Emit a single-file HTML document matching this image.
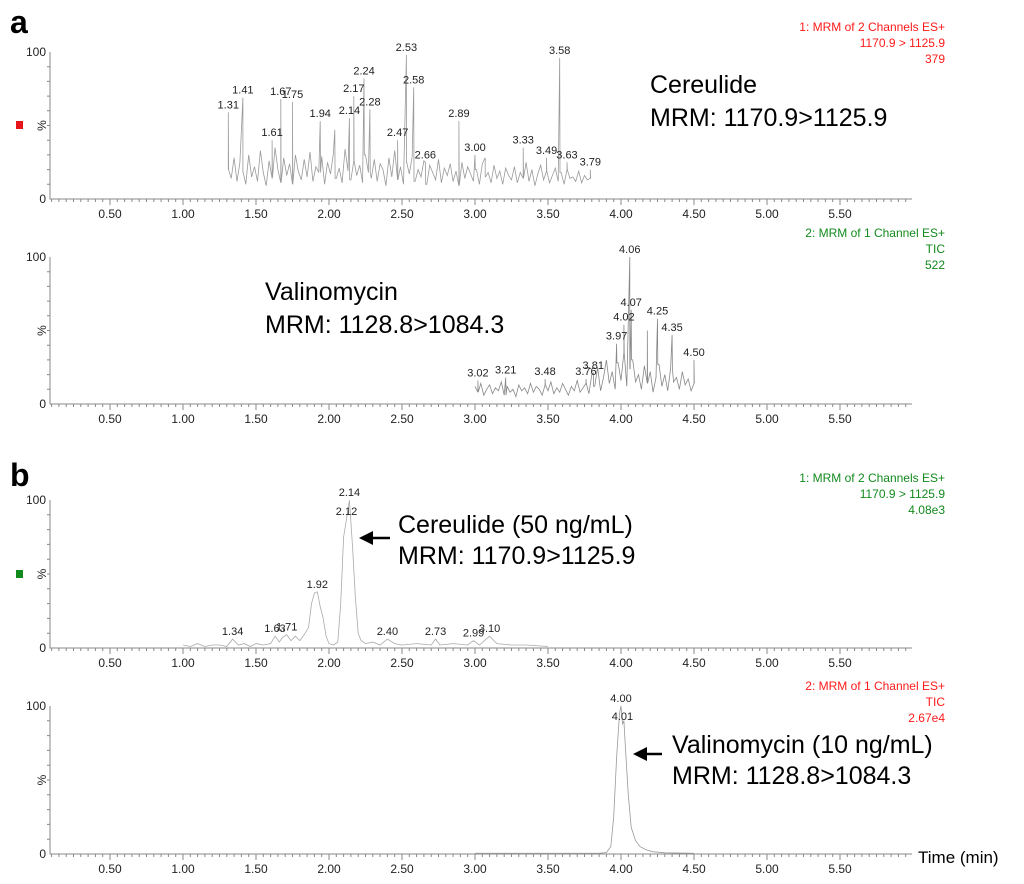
<!DOCTYPE html>
<html><head><meta charset="utf-8"><style>
html,body{margin:0;padding:0;background:#fff;}
svg{display:block;font-family:"Liberation Sans",Arial,sans-serif;}
.tk{font-size:12px;fill:#222;}
.pl{font-size:11px;fill:#222;}
.big{font-size:25px;fill:#000;}
</style></head><body>
<svg id="chart" width="1024" height="884" viewBox="0 0 1024 884" xmlns="http://www.w3.org/2000/svg">
<text x="10" y="33" font-size="32" font-weight="bold">a</text>
<text x="10" y="486" font-size="32" font-weight="bold">b</text>
<rect x="16" y="121" width="7" height="8" fill="#e8141b"/>
<rect x="16" y="570" width="7" height="8" fill="#138a1e"/>
<g id="panels"></g>
<g>
<text class="big" x="650" y="93">Cereulide</text>
<text class="big" x="650" y="126">MRM: 1170.9&gt;1125.9</text>
<text class="big" x="265" y="300">Valinomycin</text>
<text class="big" x="265" y="333">MRM: 1128.8&gt;1084.3</text>
<text class="big" x="398" y="533">Cereulide (50 ng/mL)</text>
<text class="big" x="398" y="564">MRM: 1170.9&gt;1125.9</text>
<text class="big" x="672" y="753">Valinomycin (10 ng/mL)</text>
<text class="big" x="672" y="784">MRM: 1128.8&gt;1084.3</text>
<g><line x1="372" y1="538" x2="390" y2="538" stroke="#000" stroke-width="2.5"/><polygon points="359,538 373,531 373,545" fill="#000"/></g>
<g><line x1="646" y1="754" x2="662" y2="754" stroke="#000" stroke-width="2.5"/><polygon points="633,754 647,747 647,761" fill="#000"/></g>
<text x="918" y="863" font-size="17" fill="#000">Time (min)</text>
</g>
</svg>
<script>
// Panel a1: Cereulide noise (0.02 min grid from 1.31) + labelled peaks
const p1Start = 1.31;
const p1Noise = [20,14,28,12,25,18,10,30,15,22,12,33,18,9,26,14,35,20,11,28,16,24,10,30,19,13,27,15,32,12,22,18,29,10,25,17,31,14,21,11,34,19,13,26,16,23,11,30,18,14,27,12,24,20,9,28,15,33,13,22,10,25,17,29,12,20,15,26,10,23,18,13,27,11,21,16,24,12,19,9,25,14,22,17,12,20,10,24,15,18,11,23,14,19,10,21,16,13,22,11,18,14,25,12,20,9,17,23,13,19,11,16,21,12,18,10,20,14,15,12,19,11,16,13,14];
const p1PeakT = [1.31,1.41,1.61,1.67,1.75,1.94,2.04,2.14,2.17,2.24,2.28,2.47,2.53,2.58,2.66,2.89,3.00,3.07,3.33,3.49,3.58,3.63,3.79];
const p1PeakV = [59,69,40,68,66,53,47,55,70,82,61,40,98,76,25,53,30,28,35,28,96,25,20];
const p1Labels = ["1.31","1.41","1.61","1.67","1.75","1.94","","2.14","2.17","2.24","2.28","2.47","2.53","2.58","2.66","2.89","3.00","","3.33","3.49","3.58","3.63","3.79"];
// Panel a2: Valinomycin
const p2Start = 3.00;
const p2Noise = [12,8,14,6,10,13,7,11,9,15,6,12,8,10,5,13,9,11,7,14,8,12,10,6,13,9,15,7,11,8,14,10,6,12,9,16,8,11,14,7,20,12,25,9,18,30,14,22,10,28,16,35,12,24,30,15,20,10,26,14,22,8,18,27,12,20,9,24,15,18,10,22,13,17,9,14];
const p2PeakT = [3.02,3.21,3.48,3.76,3.81,3.97,4.02,4.06,4.07,4.18,4.25,4.35,4.50];
const p2PeakV = [16,18,17,17,21,41,54,100,64,50,58,47,30];
const p2Labels = ["3.02","3.21","3.48","3.76","3.81","3.97","4.02","4.06","4.07","","4.25","4.35","4.50"];
// Panel b1: Cereulide 50 ng/mL
const p3T = [1.00,1.05,1.10,1.15,1.20,1.25,1.30,1.34,1.38,1.42,1.46,1.50,1.55,1.60,1.63,1.66,1.68,1.71,1.74,1.77,1.80,1.83,1.86,1.88,1.90,1.92,1.94,1.96,1.98,2.00,2.03,2.06,2.08,2.10,2.12,2.14,2.16,2.18,2.20,2.22,2.25,2.30,2.35,2.40,2.45,2.50,2.60,2.70,2.73,2.76,2.85,2.95,2.99,3.03,3.10,3.15,3.25,3.35,3.50];
const p3V = [2,1,3,1,2,2,1,6,2,3,1,3,2,3,8,4,7,9,5,8,5,9,14,30,37,38,28,20,8,3,2,4,30,75,87,100,70,35,10,5,3,4,2,6,3,2,3,2,6,2,3,2,5,2,8,3,2,2,1];
const p3PeakT = [1.34,1.63,1.71,1.92,2.12,2.14,2.40,2.73,2.99,3.10];
const p3PeakV = [6,8,9,38,87,100,6,6,5,8];
// Panel b2: Valinomycin 10 ng/mL
const p4T = [3.00,3.50,3.85,3.90,3.93,3.95,3.97,3.99,4.00,4.01,4.02,4.03,4.05,4.07,4.10,4.13,4.17,4.22,4.30,4.50];
const p4V = [0.5,0.5,0.5,1,5,25,65,95,100,88,90,72,40,18,9,5,3,1.5,0.8,0.5];
const p4PeakT = [4.00,4.01];
const p4PeakV = [100,88];
const xTicks = ["0.50","1.00","1.50","2.00","2.50","3.00","3.50","4.00","4.50","5.00","5.50"];

const NS = "http://www.w3.org/2000/svg";
const root = document.getElementById("panels");
function xs(t){ return 37 + 146 * t; }
function mk(tag, attrs, parent){ const e = document.createElementNS(NS, tag); for (const k in attrs) e.setAttribute(k, attrs[k]); (parent||root).appendChild(e); return e; }

const panels = [
 {top:52, bot:199, name:"panel-a1", hdr:["1: MRM of 2 Channels ES+","1170.9 > 1125.9","379"], hc:"#ff1a1a", hy:31},
 {top:257, bot:404, name:"panel-a2", hdr:["2: MRM of 1 Channel ES+","TIC","522"], hc:"#138a1e", hy:237},
 {top:500, bot:648, name:"panel-b1", hdr:["1: MRM of 2 Channels ES+","1170.9 > 1125.9","4.08e3"], hc:"#138a1e", hy:482},
 {top:706, bot:854, name:"panel-b2", hdr:["2: MRM of 1 Channel ES+","TIC","2.67e4"], hc:"#ff1a1a", hy:690}
];

function ys(p, v){ return p.bot - (p.bot - p.top) * v / 100; }

panels.forEach(function(p, i){
  const g = mk("g", {});
  
  
  const ax = mk("path", {d:"M50 "+(p.top)+" L50 "+p.bot+" L912 "+p.bot, stroke:"#888", fill:"none", "stroke-width":1}, g);
  
  
  let d = "";
  for (let k = 2; k <= 119; k++){ const t = k*0.05; const x = xs(t); if (x>912) break; const maj = (k%10===0); d += "M"+x.toFixed(1)+" "+p.bot+" l0 "+(maj?6:3); }
  for (let k = 1; k < 10; k++){ const y = p.top + (p.bot-p.top)*k/10; d += "M50 "+y.toFixed(1)+" l-3 0"; }
  mk("path", {d:d, stroke:"#888", fill:"none", "stroke-width":1}, g);
  xTicks.forEach(function(s){
    const t = mk("text", {x:xs(parseFloat(s)), y:p.bot+19, "text-anchor":"middle", class:"tk"}, g);
    t.textContent = s;
    
    
  });
  const y100 = mk("text", {x:46, y:p.top+4, "text-anchor":"end", class:"tk"}, g); y100.textContent="100";
  
  
  const y0 = mk("text", {x:46, y:p.bot+4, "text-anchor":"end", class:"tk"}, g); y0.textContent="0";
  
  
  const pc = mk("text", {x:0, y:0, class:"tk", transform:"translate(46,"+((p.top+p.bot)/2)+") rotate(-90)", "text-anchor":"middle"}, g); pc.textContent="%";
  
  
  p.hdr.forEach(function(s, j){
    const h = mk("text", {x:945, y:p.hy+16*j, "text-anchor":"end", "font-size":12, fill:p.hc}, g);
    h.textContent = s;
    
    
  });
  p.g = g;
});

function mergeNoise(start, noise, pt, pv){
  const pts = noise.map(function(v,k){ return [start + 0.02*k, v]; });
  pt.forEach(function(t,k){ pts.push([t, pv[k]]); pts.push([t+0.002, noise[Math.min(noise.length-1, Math.round((t-start)/0.02))]]); });
  pts.sort(function(a,b){ return a[0]-b[0]; });
  return pts;
}
function drawTrace(p, pts, color){
  const s = pts.map(function(q){ return xs(q[0]).toFixed(1)+","+ys(p,q[1]).toFixed(1); }).join(" ");
  const l = mk("polyline", {points:s, fill:"none", stroke:color, "stroke-width":0.8}, p.g);
  
  
}
function drawLabels(p, pt, pv, labs){
  pt.forEach(function(t,k){
    const s = labs ? labs[k] : t.toFixed(2);
    if (!s) return;
    const tx = mk("text", {x:xs(t), y:ys(p,pv[k])-4, "text-anchor":"middle", class:"pl"}, p.g);
    tx.textContent = s;
    
    
  });
}

drawTrace(panels[0], mergeNoise(p1Start, p1Noise, p1PeakT, p1PeakV), "#9a9a9a");
drawLabels(panels[0], p1PeakT, p1PeakV, p1Labels);
drawTrace(panels[1], mergeNoise(p2Start, p2Noise, p2PeakT, p2PeakV), "#888");
drawLabels(panels[1], p2PeakT, p2PeakV, p2Labels);
drawTrace(panels[2], p3T.map(function(t,k){ return [t, p3V[k]]; }), "#aaa");
drawLabels(panels[2], p3PeakT, p3PeakV, null);
drawTrace(panels[3], p4T.map(function(t,k){ return [t, p4V[k]]; }), "#999");
drawLabels(panels[3], p4PeakT, p4PeakV, null);
</script>
</body></html>
